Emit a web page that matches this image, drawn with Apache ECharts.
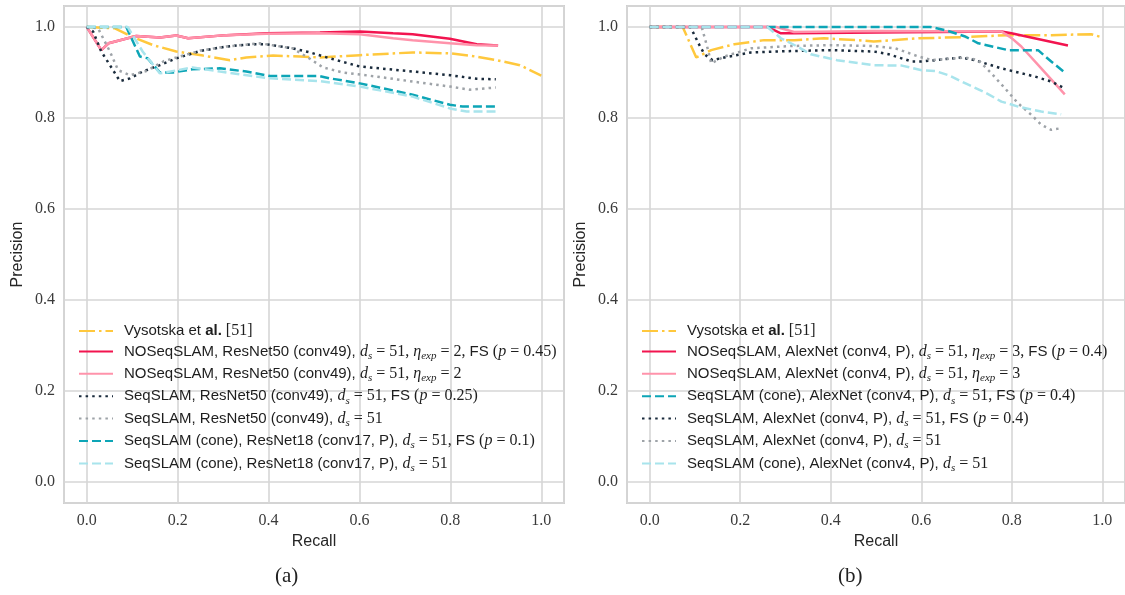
<!DOCTYPE html>
<html>
<head>
<meta charset="utf-8">
<script src="https://cdn.jsdelivr.net/npm/echarts@6/dist/echarts.min.js"></script>
<style>
  html, body { margin: 0; padding: 0; background: #fff; }
  #chart { width: 1125px; height: 595px; }
</style>
</head>
<body>
<div id="chart"></div>
<script>
// ---- data (recall, precision) ----
// (a)
var vysA = [[0,1],[0.062,0.997],[0.098,0.979],[0.146,0.96],[0.197,0.946],[0.256,0.937],[0.315,0.927],[0.351,0.933],[0.41,0.937],[0.469,0.935],[0.513,0.933],[0.601,0.938],[0.717,0.944],[0.799,0.942],[0.843,0.937],[0.902,0.927],[0.953,0.916],[1.0,0.893]]
var noFsA = [[0,1],[0.032,0.949],[0.048,0.964],[0.109,0.98],[0.161,0.977],[0.197,0.981],[0.223,0.975],[0.307,0.982],[0.395,0.986],[0.513,0.988],[0.601,0.99],[0.674,0.986],[0.717,0.984],[0.799,0.974],[0.858,0.962],[0.905,0.959]]
var noA = [[0,1],[0.032,0.949],[0.048,0.964],[0.109,0.98],[0.161,0.977],[0.197,0.981],[0.223,0.975],[0.307,0.982],[0.395,0.985],[0.513,0.986],[0.601,0.984],[0.674,0.975],[0.717,0.971],[0.799,0.964],[0.858,0.96],[0.905,0.959]]
var seqFsA = [[0,1],[0.014,0.99],[0.032,0.946],[0.051,0.916],[0.073,0.881],[0.095,0.887],[0.123,0.902],[0.161,0.916],[0.197,0.931],[0.249,0.947],[0.307,0.957],[0.365,0.962],[0.395,0.962],[0.453,0.953],[0.491,0.944],[0.535,0.931],[0.601,0.913],[0.717,0.902],[0.799,0.894],[0.858,0.886],[0.9,0.885]]
var seqA = [[0,1],[0.025,0.997],[0.051,0.946],[0.069,0.905],[0.095,0.894],[0.131,0.903],[0.17,0.925],[0.25,0.948],[0.307,0.957],[0.381,0.964],[0.453,0.953],[0.491,0.93],[0.52,0.911],[0.563,0.9],[0.637,0.891],[0.717,0.88],[0.799,0.869],[0.843,0.862],[0.9,0.867]]
var coneFsA = [[0,1],[0.087,1],[0.117,0.935],[0.134,0.931],[0.161,0.9],[0.19,0.9],[0.233,0.907],[0.293,0.909],[0.351,0.902],[0.403,0.892],[0.513,0.892],[0.535,0.887],[0.601,0.876],[0.717,0.851],[0.799,0.829],[0.827,0.825],[0.9,0.825]]
var coneA = [[0,1],[0.09,1],[0.123,0.946],[0.161,0.898],[0.233,0.911],[0.293,0.902],[0.403,0.887],[0.513,0.881],[0.601,0.869],[0.717,0.847],[0.799,0.821],[0.836,0.814],[0.9,0.814]]
// (b)
var vysB = [[0,1],[0.073,1],[0.103,0.933],[0.136,0.949],[0.187,0.962],[0.253,0.971],[0.32,0.971],[0.385,0.975],[0.458,0.971],[0.495,0.968],[0.594,0.975],[0.704,0.978],[0.792,0.982],[0.887,0.982],[0.975,0.984],[1.0,0.977]]
var noFsB = [[0,1],[0.26,1],[0.29,0.986],[0.319,0.986],[0.5,0.988],[0.777,0.99],[0.799,0.986],[0.924,0.959]]
var noB = [[0,1],[0.28,1],[0.319,0.989],[0.495,0.991],[0.777,0.99],[0.799,0.976],[0.821,0.957],[0.865,0.909],[0.917,0.852]]
var coneFsB = [[0,1],[0.62,1],[0.653,0.993],[0.697,0.979],[0.726,0.964],[0.792,0.949],[0.858,0.949],[0.887,0.924],[0.917,0.9]]
var seqFsB = [[0,1],[0.09,1],[0.11,0.96],[0.121,0.94],[0.139,0.927],[0.165,0.933],[0.224,0.944],[0.312,0.947],[0.4,0.949],[0.495,0.946],[0.528,0.94],[0.579,0.924],[0.601,0.924],[0.689,0.933],[0.718,0.927],[0.777,0.909],[0.851,0.891],[0.887,0.88],[0.913,0.867]]
var seqB = [[0,1],[0.115,1],[0.128,0.953],[0.136,0.92],[0.165,0.935],[0.224,0.953],[0.312,0.958],[0.4,0.96],[0.495,0.958],[0.543,0.953],[0.594,0.935],[0.623,0.927],[0.697,0.933],[0.726,0.927],[0.755,0.898],[0.785,0.865],[0.814,0.832],[0.843,0.807],[0.865,0.785],[0.887,0.774],[0.906,0.777]]
var coneB = [[0,1],[0.26,1],[0.29,0.975],[0.326,0.957],[0.356,0.94],[0.414,0.927],[0.495,0.916],[0.557,0.915],[0.601,0.905],[0.631,0.903],[0.66,0.894],[0.704,0.873],[0.741,0.856],[0.777,0.836],[0.814,0.825],[0.865,0.814],[0.909,0.808]]

var panelLabels = ['(a)', '(b)']

// legend texts, LaTeX bits as rich fragments
var legendRich = {
  'Vysotska et al. [51]': '{f|Vysotska et }{b|al.}{n| [51]}',
  'NOSeqSLAM, ResNet50 (conv49), FS': '{f|NOSeqSLAM, ResNet50 (conv49), }{m|d}{s|s}{n| = 51, }{m|η}{s|exp}{n| = 2, }{t|FS }{n|(}{m|p}{n| = 0.45)}',
  'NOSeqSLAM, ResNet50 (conv49)': '{f|NOSeqSLAM, ResNet50 (conv49), }{m|d}{s|s}{n| = 51, }{m|η}{s|exp}{n| = 2}',
  'SeqSLAM, ResNet50 (conv49), FS': '{f|SeqSLAM, ResNet50 (conv49), }{m|d}{s|s}{n| = 51, }{t|FS }{n|(}{m|p}{n| = 0.25)}',
  'SeqSLAM, ResNet50 (conv49)': '{f|SeqSLAM, ResNet50 (conv49), }{m|d}{s|s}{n| = 51}',
  'SeqSLAM (cone), ResNet18 (conv17, P), FS': '{f|SeqSLAM (cone), ResNet18 (conv17, P), }{m|d}{s|s}{n| = 51, }{t|FS }{n|(}{m|p}{n| = 0.1)}',
  'SeqSLAM (cone), ResNet18 (conv17, P)': '{f|SeqSLAM (cone), ResNet18 (conv17, P), }{m|d}{s|s}{n| = 51}',
  'NOSeqSLAM, AlexNet (conv4, P), FS': '{f|NOSeqSLAM, AlexNet (conv4, P), }{m|d}{s|s}{n| = 51, }{m|η}{s|exp}{n| = 3, }{t|FS }{n|(}{m|p}{n| = 0.4)}',
  'NOSeqSLAM, AlexNet (conv4, P)': '{f|NOSeqSLAM, AlexNet (conv4, P), }{m|d}{s|s}{n| = 51, }{m|η}{s|exp}{n| = 3}',
  'SeqSLAM (cone), AlexNet (conv4, P), FS': '{f|SeqSLAM (cone), AlexNet (conv4, P), }{m|d}{s|s}{n| = 51, }{t|FS }{n|(}{m|p}{n| = 0.4)}',
  'SeqSLAM, AlexNet (conv4, P), FS': '{f|SeqSLAM, AlexNet (conv4, P), }{m|d}{s|s}{n| = 51, }{t|FS }{n|(}{m|p}{n| = 0.4)}',
  'SeqSLAM, AlexNet (conv4, P)': '{f|SeqSLAM, AlexNet (conv4, P), }{m|d}{s|s}{n| = 51}',
  'SeqSLAM (cone), AlexNet (conv4, P)': '{f|SeqSLAM (cone), AlexNet (conv4, P), }{m|d}{s|s}{n| = 51}'
}

var C = {
  yellow: '#FFC83D', red: '#F2144F', pink: '#FF93AB', navy: '#1A2B3C',
  gray: '#9EA3A8', teal: '#0DA5B6', cyan: '#A8E4EC'
}
var LW = 2.5
var DASH = [9, 4], DOT = [2.5, 4.1], DASHDOT = [16, 4, 2.5, 4]

function line(name, data, color, type, idx) {
  return {
    name: name, type: 'line', data: data, xAxisIndex: idx, yAxisIndex: idx,
    symbol: 'none', showSymbol: false, smooth: false, animation: false,
    lineStyle: { color: color, width: LW, type: type },
    itemStyle: { color: color }
  }
}

var seriesA = [
  line('Vysotska et al. [51]', vysA, C.yellow, DASHDOT, 0),
  line('NOSeqSLAM, ResNet50 (conv49), FS', noFsA, C.red, 'solid', 0),
  line('NOSeqSLAM, ResNet50 (conv49)', noA, C.pink, 'solid', 0),
  line('SeqSLAM, ResNet50 (conv49), FS', seqFsA, C.navy, DOT, 0),
  line('SeqSLAM, ResNet50 (conv49)', seqA, C.gray, DOT, 0),
  line('SeqSLAM (cone), ResNet18 (conv17, P), FS', coneFsA, C.teal, DASH, 0),
  line('SeqSLAM (cone), ResNet18 (conv17, P)', coneA, C.cyan, DASH, 0)
]
var seriesB = [
  line('Vysotska et al. [51]', vysB, C.yellow, DASHDOT, 1),
  line('NOSeqSLAM, AlexNet (conv4, P), FS', noFsB, C.red, 'solid', 1),
  line('NOSeqSLAM, AlexNet (conv4, P)', noB, C.pink, 'solid', 1),
  line('SeqSLAM (cone), AlexNet (conv4, P), FS', coneFsB, C.teal, DASH, 1),
  line('SeqSLAM, AlexNet (conv4, P), FS', seqFsB, C.navy, DOT, 1),
  line('SeqSLAM, AlexNet (conv4, P)', seqB, C.gray, DOT, 1),
  line('SeqSLAM (cone), AlexNet (conv4, P)', coneB, C.cyan, DASH, 1)
]

var SANS = '"Liberation Sans", "DejaVu Sans", sans-serif'
var SERIF = '"Liberation Serif", "DejaVu Serif", serif'
var rich = {
  f: { fontFamily: SANS, fontSize: 15, color: '#1e1e1e', lineHeight: 20, padding: [0, 0, 0, 6] },
  t: { fontFamily: SANS, fontSize: 15, color: '#1e1e1e', lineHeight: 20 },
  b: { fontFamily: SANS, fontSize: 15, color: '#1e1e1e', lineHeight: 20, fontWeight: 'bold' },
  m: { fontFamily: SERIF, fontSize: 16, color: '#1e1e1e', lineHeight: 20, fontStyle: 'italic' },
  n: { fontFamily: SERIF, fontSize: 16, color: '#1e1e1e', lineHeight: 20 },
  s: { fontFamily: SERIF, fontSize: 11, color: '#1e1e1e', lineHeight: 20, fontStyle: 'italic', verticalAlign: 'bottom' }
}

function legendFor(list, left) {
  return {
    orient: 'vertical', left: left, top: 323, padding: 0,
    itemWidth: 34, itemHeight: 14, itemGap: 4.4,
    data: list.map(function (s) { return s.name }),
    formatter: function (name) { return legendRich[name] },
    textStyle: { rich: rich, color: '#1e1e1e' },
    itemStyle: { opacity: 0, borderWidth: 0 },
    selectedMode: false
  }
}

function xAx(idx) {
  return {
    gridIndex: idx, type: 'value', min: -0.05, max: 1.05,
    name: 'Recall', nameLocation: 'middle', nameGap: 30,
    nameTextStyle: { fontFamily: SANS, fontSize: 16, color: '#262626' },
    axisLine: { show: false }, axisTick: { show: false },
    axisLabel: {
      margin: 10, showMinLabel: false, showMaxLabel: false,
      fontFamily: SERIF, fontSize: 16, color: '#3a3a3a',
      formatter: function (v) { return v.toFixed(1) }
    },
    splitLine: { show: true, lineStyle: { color: '#d6d6d6', width: 1.6 } }
  }
}
function yAx(idx) {
  return {
    gridIndex: idx, type: 'value', min: -0.046, max: 1.046,
    name: 'Precision', nameLocation: 'middle', nameGap: 38, nameRotate: 90,
    nameTextStyle: { fontFamily: SANS, fontSize: 16, color: '#262626' },
    axisLine: { show: false }, axisTick: { show: false },
    axisLabel: {
      margin: 9, showMinLabel: false, showMaxLabel: false,
      fontFamily: SERIF, fontSize: 16, color: '#3a3a3a',
      formatter: function (v) { return v.toFixed(1) }
    },
    splitLine: { show: true, lineStyle: { color: '#d6d6d6', width: 1.6 } }
  }
}

var chart = echarts.init(document.getElementById('chart'))
chart.setOption({
  backgroundColor: '#fff',
  animation: false,
  grid: [
    { left: 64, top: 6, width: 500, height: 497, show: true, borderColor: '#cfcfcf', borderWidth: 2, backgroundColor: 'transparent' },
    { left: 627, top: 6, width: 500, height: 497, show: true, borderColor: '#cfcfcf', borderWidth: 2, backgroundColor: 'transparent' }
  ],
  xAxis: [xAx(0), xAx(1)],
  yAxis: [yAx(0), yAx(1)],
  legend: [legendFor(seriesA, 78), legendFor(seriesB, 641)],
  graphic: [
    { type: 'text', left: 275, top: 566, style: { text: panelLabels[0], font: '21px ' + SERIF, fill: '#222' } },
    { type: 'text', left: 838, top: 566, style: { text: panelLabels[1], font: '21px ' + SERIF, fill: '#222' } }
  ],
  series: seriesA.concat(seriesB)
})
</script>
</body>
</html>
